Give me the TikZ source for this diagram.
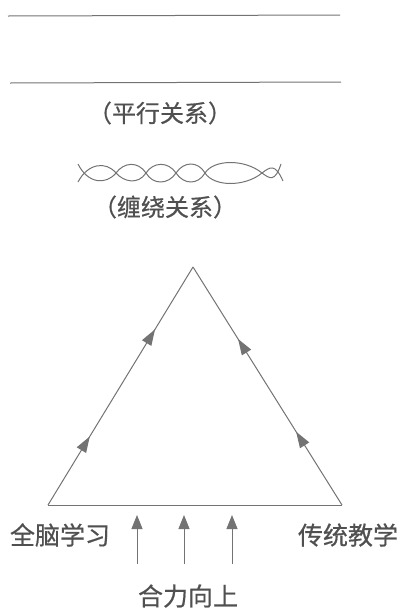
\documentclass[tikz,border=0pt]{standalone}
\usepackage{fontspec}
\setmainfont{Noto Sans CJK SC}[FakeBold=0.6]
\usetikzlibrary{arrows.meta,decorations.markings}
\definecolor{ink}{RGB}{115,115,115}
\definecolor{txt}{RGB}{80,80,80}
\begin{document}
\begin{tikzpicture}[x=1pt,y=-1pt,
  line/.style={draw=ink,line width=1pt},
  lbl/.style={text=txt,font=\fontsize{24}{26}\selectfont,inner sep=0pt},
  tip/.style={-{Triangle[length=14pt,width=11pt]}},
  headat/.style={postaction={decorate,decoration={markings,
     mark=at position #1 with {\fill[ink] (5pt,0) -- (-11pt,5.5pt) -- (-11pt,-5.5pt) -- cycle;}}}}
]
\useasboundingbox (0,0) rectangle (408,611);
% parallel lines
\coordinate (p1a) at (8,16); \coordinate (p1b) at (340,15);
\coordinate (p2a) at (10,83); \coordinate (p2b) at (341,82);
\draw[line] (p1a) -- (p1b);
\draw[line] (p2a) -- (p2b);
\node[lbl] (par) at (160,113) {（平行关系）};
% twisted strands
\begin{scope}[line, draw=ink, line width=1pt]
\draw (78,182) .. controls (88,163) and (106,161) .. (116,173)
      .. controls (124,182) and (138,185) .. (146,173)
      .. controls (153,162) and (168,161) .. (176,173)
      .. controls (184,185) and (198,185) .. (205,173)
      .. controls (214,159) and (245,159) .. (262,173)
      .. controls (270,179) and (275,182) .. (281,164);
\draw (78,164) .. controls (88,184) and (106,185) .. (116,173)
      .. controls (124,162) and (138,161) .. (146,173)
      .. controls (153,185) and (168,185) .. (176,173)
      .. controls (184,161) and (198,161) .. (205,173)
      .. controls (214,187) and (245,187) .. (262,173)
      .. controls (270,167) and (275,163) .. (283,181);
\end{scope}
\node[lbl] (tw) at (165,207) {（缠绕关系）};
% triangle
\coordinate (top) at (193,267);
\coordinate (bl) at (48,505);
\coordinate (br) at (342,505);
\draw[line] (bl) -- (br);
\path[line, headat=0.27, headat=0.72] (bl) -- (top);
\path[line, headat=0.29, headat=0.68] (br) -- (top);
% labels
\node[lbl,font=\fontsize{25}{27}\selectfont] (left) at (60,535) {全脑学习};
\node[lbl,font=\fontsize{25}{27}\selectfont] (right) at (348,535) {传统教学};
\node[lbl,font=\fontsize{25}{27}\selectfont] (force) at (188,596) {合力向上};
% upward arrows
\foreach \i/\x in {1/137,2/184,3/232}{
  \coordinate (a\i s) at (\x,564);
  \coordinate (a\i e) at (\x,515);
  \draw[line,tip,ink] (a\i s) -- (a\i e);
}
\end{tikzpicture}
\end{document}
